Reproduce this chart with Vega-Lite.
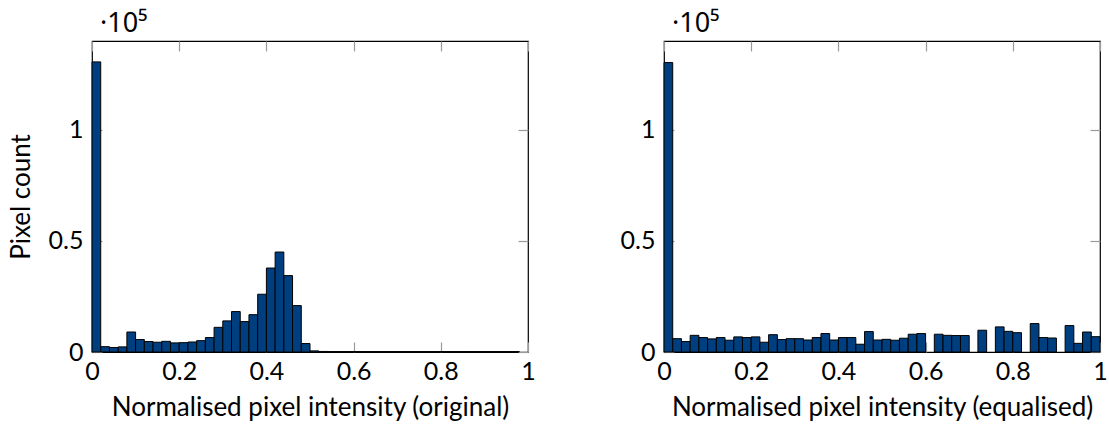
{
  "$schema": "https://vega.github.io/schema/vega-lite/v6.json",
  "background": "white",
  "padding": {"left": 7, "top": 9, "right": 5, "bottom": 5},
  "config": {
    "font": "Lato",
    "view": {"stroke": "black", "strokeWidth": 1.2},
    "axis": {"grid": false, "domain": false, "labelColor": "black", "titleColor": "black", "labelFontSize": 25, "titleFontSize": 26, "titleFontWeight": "normal", "tickColor": "#9a9a9a", "tickWidth": 1.2, "labelFlush": false},
    "title": {"fontSize": 27, "font": "Noto Sans", "fontWeight": "normal", "color": "black", "anchor": "start", "frame": "group", "baseline": "alphabetic"}
  },
  "datasets": {
    "orig": [
      {"a": 0.00, "b": 0.02, "n": 130600}, {"a": 0.02, "b": 0.04, "n": 2400}, {"a": 0.04, "b": 0.06, "n": 2000},
      {"a": 0.06, "b": 0.08, "n": 2300}, {"a": 0.08, "b": 0.10, "n": 9000}, {"a": 0.10, "b": 0.12, "n": 5600},
      {"a": 0.12, "b": 0.14, "n": 4700}, {"a": 0.14, "b": 0.16, "n": 4400}, {"a": 0.16, "b": 0.18, "n": 4800},
      {"a": 0.18, "b": 0.20, "n": 4100}, {"a": 0.20, "b": 0.22, "n": 4200}, {"a": 0.22, "b": 0.24, "n": 4500},
      {"a": 0.24, "b": 0.26, "n": 5100}, {"a": 0.26, "b": 0.28, "n": 6500}, {"a": 0.28, "b": 0.30, "n": 11100},
      {"a": 0.30, "b": 0.32, "n": 14000}, {"a": 0.32, "b": 0.34, "n": 18200}, {"a": 0.34, "b": 0.36, "n": 13700},
      {"a": 0.36, "b": 0.38, "n": 16800}, {"a": 0.38, "b": 0.40, "n": 26000}, {"a": 0.40, "b": 0.42, "n": 37800},
      {"a": 0.42, "b": 0.44, "n": 45000}, {"a": 0.44, "b": 0.46, "n": 34400}, {"a": 0.46, "b": 0.48, "n": 20900},
      {"a": 0.48, "b": 0.50, "n": 3800}, {"a": 0.50, "b": 0.52, "n": 500}, {"a": 0.52, "b": 0.54, "n": 250},
      {"a": 0.54, "b": 0.56, "n": 200}, {"a": 0.56, "b": 0.58, "n": 200}, {"a": 0.58, "b": 0.60, "n": 200},
      {"a": 0.60, "b": 0.62, "n": 200}, {"a": 0.62, "b": 0.64, "n": 200}, {"a": 0.64, "b": 0.66, "n": 200},
      {"a": 0.66, "b": 0.68, "n": 200}, {"a": 0.68, "b": 0.70, "n": 200}, {"a": 0.70, "b": 0.72, "n": 200},
      {"a": 0.72, "b": 0.74, "n": 200}, {"a": 0.74, "b": 0.76, "n": 200}, {"a": 0.76, "b": 0.78, "n": 200},
      {"a": 0.78, "b": 0.80, "n": 200}, {"a": 0.80, "b": 0.82, "n": 200}, {"a": 0.82, "b": 0.84, "n": 200},
      {"a": 0.84, "b": 0.86, "n": 200}, {"a": 0.86, "b": 0.88, "n": 200}, {"a": 0.88, "b": 0.90, "n": 200},
      {"a": 0.90, "b": 0.92, "n": 200}, {"a": 0.92, "b": 0.94, "n": 200}, {"a": 0.94, "b": 0.96, "n": 200},
      {"a": 0.96, "b": 0.98, "n": 200}
    ],
    "eq": [
      {"a": 0.00, "b": 0.02, "n": 130300}, {"a": 0.02, "b": 0.04, "n": 6000}, {"a": 0.04, "b": 0.06, "n": 4700},
      {"a": 0.06, "b": 0.08, "n": 7500}, {"a": 0.08, "b": 0.10, "n": 6500}, {"a": 0.10, "b": 0.12, "n": 5900},
      {"a": 0.12, "b": 0.14, "n": 6500}, {"a": 0.14, "b": 0.16, "n": 5300}, {"a": 0.16, "b": 0.18, "n": 6800},
      {"a": 0.18, "b": 0.20, "n": 6500}, {"a": 0.20, "b": 0.22, "n": 6800}, {"a": 0.22, "b": 0.24, "n": 4400},
      {"a": 0.24, "b": 0.26, "n": 7800}, {"a": 0.26, "b": 0.28, "n": 5600}, {"a": 0.28, "b": 0.30, "n": 6000},
      {"a": 0.30, "b": 0.32, "n": 6000}, {"a": 0.32, "b": 0.34, "n": 5400}, {"a": 0.34, "b": 0.36, "n": 6500},
      {"a": 0.36, "b": 0.38, "n": 8300}, {"a": 0.38, "b": 0.40, "n": 5400}, {"a": 0.40, "b": 0.42, "n": 6500},
      {"a": 0.42, "b": 0.44, "n": 6500}, {"a": 0.44, "b": 0.46, "n": 3500}, {"a": 0.46, "b": 0.48, "n": 9200},
      {"a": 0.48, "b": 0.50, "n": 5400}, {"a": 0.50, "b": 0.52, "n": 5700}, {"a": 0.52, "b": 0.54, "n": 5300},
      {"a": 0.54, "b": 0.56, "n": 6200}, {"a": 0.56, "b": 0.58, "n": 8000}, {"a": 0.58, "b": 0.60, "n": 8300},
      {"a": 0.62, "b": 0.64, "n": 8000}, {"a": 0.64, "b": 0.66, "n": 7500}, {"a": 0.66, "b": 0.68, "n": 7400},
      {"a": 0.68, "b": 0.70, "n": 7400}, {"a": 0.72, "b": 0.74, "n": 9800}, {"a": 0.76, "b": 0.78, "n": 11300},
      {"a": 0.78, "b": 0.80, "n": 9300}, {"a": 0.80, "b": 0.82, "n": 8700}, {"a": 0.84, "b": 0.86, "n": 12800},
      {"a": 0.86, "b": 0.88, "n": 6500}, {"a": 0.88, "b": 0.90, "n": 6300}, {"a": 0.92, "b": 0.94, "n": 11900},
      {"a": 0.94, "b": 0.96, "n": 3900}, {"a": 0.96, "b": 0.98, "n": 9000}, {"a": 0.98, "b": 1.00, "n": 6900}
    ]
  },
  "spacing": 136,
  "bounds": "flush",
  "hconcat": [
    {
      "width": 436, "height": 311,
      "title": {"text": "·10⁵", "offset": 2, "dx": 8},
      "data": {"name": "orig"},
      "layer": [
        {
          "mark": {"type": "bar", "fill": "#003f7f", "stroke": "black", "strokeWidth": 1},
          "encoding": {
            "x": {"field": "a", "type": "quantitative", "scale": {"domain": [0, 1], "nice": false},
                  "axis": {"orient": "bottom", "values": [0, 0.2, 0.4, 0.6, 0.8, 1], "format": "~g", "tickSize": -10, "labelPadding": 17, "title": "Normalised pixel intensity (original)", "titlePadding": 10}},
            "x2": {"field": "b"},
            "y": {"field": "n", "type": "quantitative", "scale": {"domain": [0, 140000], "nice": false},
                  "axis": {"orient": "left", "values": [0, 50000, 100000], "labelExpr": "format(datum.value/100000, '~g')", "tickSize": -10, "labelPadding": 19, "title": "Pixel count", "titlePadding": 14}},
            "y2": {"datum": 0}
          }
        },
        {
          "mark": {"type": "bar", "opacity": 0},
          "encoding": {
            "x": {"field": "a", "type": "quantitative", "axis": {"orient": "top", "values": [0, 0.2, 0.4, 0.6, 0.8, 1], "labels": false, "tickSize": -10, "title": null}},
            "x2": {"field": "b"},
            "y": {"field": "n", "type": "quantitative", "axis": {"orient": "right", "values": [0, 50000, 100000], "labels": false, "tickSize": -10, "title": null}},
            "y2": {"datum": 0}
          }
        }
      ]
    },
    {
      "width": 436, "height": 311,
      "title": {"text": "·10⁵", "offset": 2, "dx": 8},
      "data": {"name": "eq"},
      "layer": [
        {
          "mark": {"type": "bar", "fill": "#003f7f", "stroke": "black", "strokeWidth": 1},
          "encoding": {
            "x": {"field": "a", "type": "quantitative", "scale": {"domain": [0, 1], "nice": false},
                  "axis": {"orient": "bottom", "values": [0, 0.2, 0.4, 0.6, 0.8, 1], "format": "~g", "tickSize": -10, "labelPadding": 17, "title": "Normalised pixel intensity (equalised)", "titlePadding": 10}},
            "x2": {"field": "b"},
            "y": {"field": "n", "type": "quantitative", "scale": {"domain": [0, 140000], "nice": false},
                  "axis": {"orient": "left", "values": [0, 50000, 100000], "labelExpr": "format(datum.value/100000, '~g')", "tickSize": -10, "labelPadding": 19, "title": null}},
            "y2": {"datum": 0}
          }
        },
        {
          "mark": {"type": "bar", "opacity": 0},
          "encoding": {
            "x": {"field": "a", "type": "quantitative", "axis": {"orient": "top", "values": [0, 0.2, 0.4, 0.6, 0.8, 1], "labels": false, "tickSize": -10, "title": null}},
            "x2": {"field": "b"},
            "y": {"field": "n", "type": "quantitative", "axis": {"orient": "right", "values": [0, 50000, 100000], "labels": false, "tickSize": -10, "title": null}},
            "y2": {"datum": 0}
          }
        }
      ]
    }
  ]
}
